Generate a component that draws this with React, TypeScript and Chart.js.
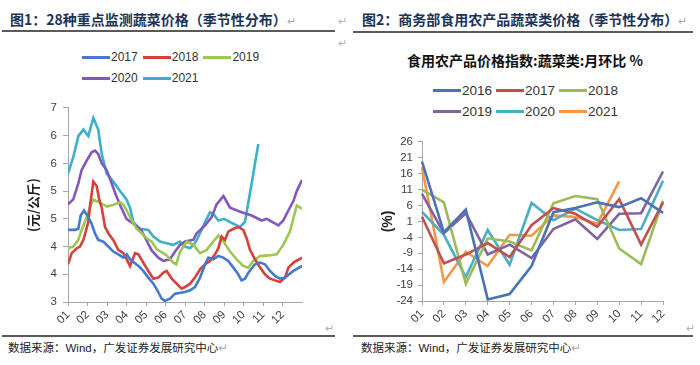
import React, { useEffect, useRef } from 'react';
import { Chart, registerables } from 'chart.js';

Chart.register(...registerables);

// ---------- shared ----------
const monthLabels = ['01', '02', '03', '04', '05', '06', '07', '08', '09', '10', '11', '12'];

// ---------- Figure 1: 28 key vegetables price (yuan/kg), x = position in year in months ----------
const leftYTicks = [3, 3.5, 4, 4.5, 5, 5.5, 6, 6.5];

const t2017 = [0, 0.36, 0.53, 0.65, 0.82, 1.04, 1.21, 1.38, 1.55, 1.81, 2.07, 2.32, 2.58, 2.84, 3.01, 3.18, 3.61, 3.86, 4.12, 4.38, 4.63, 4.8, 4.97, 5.23, 5.49, 6.0, 6.26, 6.51, 6.77, 7.03, 7.2, 7.45, 7.71, 7.96, 8.22, 8.48, 8.73, 8.9, 9.08, 9.25, 9.59, 9.85, 10.1, 10.36, 10.62, 10.87, 11.13, 11.56, 12.0];
const p2017 = [4.3, 4.3, 4.32, 4.56, 4.65, 4.53, 4.41, 4.24, 4.12, 4.09, 4.0, 3.91, 3.86, 3.8, 3.86, 3.77, 3.65, 3.56, 3.44, 3.33, 3.18, 3.06, 3.02, 3.06, 3.15, 3.18, 3.21, 3.27, 3.44, 3.68, 3.8, 3.77, 3.83, 3.8, 3.74, 3.62, 3.5, 3.39, 3.42, 3.53, 3.68, 3.71, 3.68, 3.56, 3.47, 3.42, 3.44, 3.56, 3.65];

const t2018 = [0, 0.19, 0.45, 0.62, 0.79, 1.04, 1.15, 1.3, 1.47, 1.6, 1.73, 1.9, 2.07, 2.32, 2.58, 2.84, 3.01, 3.18, 3.44, 3.61, 3.86, 4.12, 4.38, 4.63, 4.89, 5.06, 5.32, 5.57, 5.83, 6.0, 6.26, 6.51, 6.77, 7.03, 7.28, 7.54, 7.71, 7.88, 8.05, 8.22, 8.48, 8.73, 8.99, 9.16, 9.33, 9.59, 9.85, 10.1, 10.36, 10.62, 10.87, 11.13, 11.3, 11.56, 12.0];
const p2018 = [3.68, 3.88, 3.97, 4.0, 4.12, 4.44, 4.79, 5.17, 5.09, 4.85, 4.7, 4.35, 4.24, 4.12, 3.94, 3.88, 3.77, 3.65, 3.88, 3.86, 3.71, 3.56, 3.42, 3.44, 3.53, 3.56, 3.42, 3.33, 3.24, 3.27, 3.33, 3.44, 3.59, 3.68, 3.74, 3.86, 3.97, 4.18, 4.12, 4.27, 4.32, 4.35, 4.3, 4.15, 3.94, 3.77, 3.62, 3.5, 3.42, 3.39, 3.36, 3.44, 3.62, 3.71, 3.8];

const t2019 = [0, 0.27, 0.53, 0.7, 0.96, 1.13, 1.3, 1.47, 1.7, 2.0, 2.3, 2.67, 2.85, 3.01, 3.27, 3.52, 3.78, 4.04, 4.29, 4.55, 4.8, 5.06, 5.4, 5.55, 5.74, 6.09, 6.43, 6.77, 7.11, 7.45, 7.71, 7.97, 8.31, 8.65, 8.99, 9.25, 9.5, 9.85, 10.3, 10.7, 11.04, 11.38, 11.73, 12.0];
const p2019 = [3.97, 4.0, 4.12, 4.3, 4.53, 4.72, 4.85, 4.82, 4.78, 4.72, 4.75, 4.8, 4.75, 4.65, 4.47, 4.32, 4.24, 4.15, 4.09, 3.95, 3.9, 3.84, 3.71, 3.68, 3.9, 4.09, 4.03, 3.88, 3.94, 4.09, 4.2, 4.09, 3.91, 3.77, 3.65, 3.62, 3.74, 3.83, 3.84, 3.86, 4.03, 4.27, 4.74, 4.68];

const t2020 = [0, 0.27, 0.53, 0.7, 0.96, 1.21, 1.38, 1.55, 1.73, 1.98, 2.24, 2.41, 2.67, 3.0, 3.35, 3.75, 4.04, 4.29, 4.63, 4.89, 5.23, 5.49, 5.74, 6.0, 6.43, 6.6, 7.03, 7.37, 7.62, 7.97, 8.31, 8.9, 9.42, 9.93, 10.19, 10.79, 11.04, 11.3, 11.56, 11.73, 12.0];
const p2020 = [4.76, 4.85, 5.14, 5.38, 5.55, 5.7, 5.73, 5.67, 5.5, 5.38, 5.14, 4.97, 4.75, 4.5, 4.41, 4.3, 4.1, 3.93, 3.8, 3.74, 3.77, 3.91, 4.03, 4.09, 4.12, 4.24, 4.38, 4.53, 4.76, 4.91, 4.7, 4.62, 4.56, 4.47, 4.5, 4.38, 4.47, 4.65, 4.82, 5.0, 5.2];

const t2021 = [0, 0.27, 0.53, 0.79, 1.04, 1.3, 1.55, 1.73, 1.98, 2.32, 2.67, 3.0, 3.18, 3.35, 3.69, 4.12, 4.38, 4.72, 5.05, 5.4, 5.74, 6.0, 6.26, 6.51, 6.77, 7.03, 7.28, 7.45, 7.71, 8.0, 8.31, 8.55, 8.82, 9.08, 9.2, 9.42, 9.59, 9.76];
const p2021 = [5.32, 5.61, 5.99, 6.11, 5.99, 6.32, 6.11, 5.67, 5.32, 5.17, 5.0, 4.85, 4.7, 4.44, 4.32, 4.3, 4.18, 4.09, 4.06, 4.03, 4.09, 4.0, 3.97, 4.06, 4.24, 4.44, 4.62, 4.59, 4.47, 4.5, 4.44, 4.4, 4.35, 4.45, 4.7, 5.14, 5.5, 5.85];

const leftNames = ['2017', '2018', '2019', '2020', '2021'];
const leftColors = ['#4479CF', '#D8403A', '#9BC850', '#8357BE', '#3AB0CC'];
const leftT = [t2017, t2018, t2019, t2020, t2021];
const leftP = [p2017, p2018, p2019, p2020, p2021];

// ---------- Figure 2: MoM % change of vegetable price index ----------
const rightYTicks = [-24, -19, -14, -9, -4, 1, 6, 11, 16, 21, 26];
const m2016 = [19.8, -2.4, 4.7, -23.5, -21.8, -13, 3.9, 5.2, 7.0, 5.5, 8.3, 3.7];
const m2017 = [2.5, -12.2, -9.4, -5.8, -10.2, -0.2, 5.2, 3.4, -0.7, 8.0, -6.3, 7.0];
const m2018 = [11, 7, -18.6, -4.3, -5.3, -8.1, 6.7, 9.0, 8.0, -7.5, -12.4, 7.5];
const m2019 = [9.7, -2.7, 3.6, -9.4, -6.3, -10.5, -1.4, 1.7, -4.5, 3.4, 3.6, 16.7];
const m2020 = [4, -3.2, -16.5, -1.7, -12.6, 6.8, 1.4, 5.0, 1.4, -1.7, -1.4, 13.8];
const m2021 = [18, -18, -8.5, -13, -3.2, -3.5, 2.9, 2.4, 0.3, 13.6, null, null];

const rightNames = ['2016', '2017', '2018', '2019', '2020', '2021'];
const rightColors = ['#4A72BA', '#C0504D', '#9BBB59', '#8064A2', '#4BACC6', '#F79646'];
const rightVals = [m2016, m2017, m2018, m2019, m2020, m2021];

const tickFont = { family: "'Liberation Sans', Arial, sans-serif", size: 11.5 };

function leftConfig(): any {
  return {
    type: 'line',
    data: {
      datasets: leftNames.map((name, k) => ({
        label: name,
        data: leftT[k].map((x, i) => ({ x, y: leftP[k][i] })),
        borderColor: leftColors[k],
        backgroundColor: leftColors[k],
        borderWidth: 2.6,
        pointRadius: 0,
        tension: 0,
        fill: false,
      })),
    },
    options: {
      responsive: false,
      animation: false,
      devicePixelRatio: 1,
      layout: { padding: { top: 8, right: 18, left: 0, bottom: 0 } },
      plugins: { legend: { display: false }, tooltip: { enabled: false } },
      scales: {
        x: {
          type: 'linear',
          min: 0,
          max: 12,
          afterBuildTicks: (s: any) => {
            s.ticks = monthLabels.map((_, i) => ({ value: i }));
          },
          afterFit: (s: any) => {
            s.height = 33;
          },
          ticks: {
            callback: (v: any) => monthLabels[v] ?? '',
            minRotation: 45,
            maxRotation: 45,
            autoSkip: false,
            padding: 2,
            color: '#404040',
            font: tickFont,
          },
          grid: { drawOnChartArea: false, drawTicks: true, tickLength: 4, color: '#a6a6a6' },
          border: { color: '#a6a6a6' },
        },
        y: {
          min: 3,
          max: 6.5,
          afterBuildTicks: (s: any) => {
            s.ticks = leftYTicks.map((v) => ({ value: v }));
          },
          afterFit: (s: any) => {
            s.width = 68;
          },
          ticks: {
            callback: (v: any) => String(Math.round(v)),
            autoSkip: false,
            padding: 6,
            color: '#404040',
            font: tickFont,
          },
          grid: { drawOnChartArea: false, drawTicks: true, tickLength: 5, color: '#a6a6a6' },
          border: { color: '#a6a6a6' },
          title: {
            display: true,
            text: '(元/公斤)',
            color: '#222',
            font: { family: "'Noto Sans CJK SC', sans-serif", size: 13, weight: 'bold' },
            padding: { top: 25, bottom: 0 },
          },
        },
      },
    },
  };
}

function rightConfig(): any {
  return {
    type: 'line',
    data: {
      labels: monthLabels,
      datasets: rightNames.map((name, k) => ({
        label: name,
        data: rightVals[k],
        borderColor: rightColors[k],
        backgroundColor: rightColors[k],
        borderWidth: 2.6,
        pointRadius: 0,
        tension: 0,
        fill: false,
        spanGaps: false,
      })),
    },
    options: {
      responsive: false,
      animation: false,
      devicePixelRatio: 1,
      layout: { padding: { top: 8, right: 27, left: 0, bottom: 0 } },
      plugins: { legend: { display: false }, tooltip: { enabled: false } },
      scales: {
        x: {
          type: 'category',
          offset: false,
          afterFit: (s: any) => {
            s.height = 34;
          },
          ticks: {
            minRotation: 45,
            maxRotation: 45,
            autoSkip: false,
            padding: 2,
            color: '#404040',
            font: tickFont,
          },
          grid: { drawOnChartArea: false, drawTicks: true, tickLength: 4, color: '#a6a6a6' },
          border: { color: '#a6a6a6' },
        },
        y: {
          min: -24,
          max: 26,
          afterBuildTicks: (s: any) => {
            s.ticks = rightYTicks.map((v) => ({ value: v }));
          },
          afterFit: (s: any) => {
            s.width = 67;
          },
          ticks: {
            autoSkip: false,
            padding: 5,
            color: '#404040',
            font: tickFont,
          },
          grid: { drawOnChartArea: false, drawTicks: true, tickLength: 4, color: '#a6a6a6' },
          border: { color: '#a6a6a6' },
          title: {
            display: true,
            text: '(%)',
            color: '#222',
            font: { family: "'Liberation Sans', Arial, sans-serif", size: 14, weight: 'bold' },
            padding: { top: 25, bottom: 0 },
          },
        },
      },
    },
  };
}

function ChartCanvas({ make, left, top, width, height }: any) {
  const ref = useRef<HTMLCanvasElement>(null);
  useEffect(() => {
    const chart = new Chart(ref.current as HTMLCanvasElement, make());
    return () => chart.destroy();
  }, []);
  return (
    <canvas
      ref={ref}
      width={width}
      height={height}
      style={{ position: 'absolute', left, top, width, height }}
    />
  );
}

function Legend({ rows, left, top, fontSize, rowH, itemGap }: any) {
  return (
    <div style={{ position: 'absolute', left, top }}>
      {rows.map((row: any[], r: number) => (
        <div key={r} style={{ display: 'flex', alignItems: 'center', height: rowH }}>
          {row.map((it: any) => (
            <div key={it.name} style={{ display: 'flex', alignItems: 'center', marginRight: itemGap }}>
              <span style={{ display: 'inline-block', width: 28, height: 3, background: it.color }} />
              <span
                style={{
                  marginLeft: 1,
                  fontFamily: "'Liberation Sans', Arial, sans-serif",
                  fontSize,
                  color: '#333',
                  lineHeight: `${rowH}px`,
                }}
              >
                {it.name}
              </span>
            </div>
          ))}
        </div>
      ))}
    </div>
  );
}

const cjk = "'Noto Sans CJK SC', sans-serif";
const markStyle: any = { position: 'absolute', color: '#b0b0b0', fontSize: 11, fontFamily: cjk, lineHeight: '12px' };

export default function App() {
  const leftItems = leftNames.map((name, k) => ({ name, color: leftColors[k] }));
  const rightItems = rightNames.map((name, k) => ({ name, color: rightColors[k] }));
  return (
    <div style={{ position: 'absolute', left: 0, top: 0, width: 700, height: 365, background: '#fff', overflow: 'hidden' }}>
      {/* titles */}
      <div style={{ position: 'absolute', left: 10, top: 9, fontFamily: cjk, fontWeight: 700, fontSize: 14, lineHeight: '20px', color: '#1C3358', whiteSpace: 'nowrap' }}>
        图1：28种重点监测蔬菜价格（季节性分布）<span style={{ color: '#aaa', fontWeight: 400, fontSize: 11 }}>↵</span>
      </div>
      <div style={{ position: 'absolute', left: 362, top: 9, fontFamily: cjk, fontWeight: 700, fontSize: 14, lineHeight: '20px', color: '#1C3358', whiteSpace: 'nowrap' }}>
        图2：商务部食用农产品蔬菜类价格（季节性分布）<span style={{ color: '#aaa', fontWeight: 400, fontSize: 11 }}>↵</span>
      </div>
      <div style={{ position: 'absolute', left: 2, top: 30, width: 333, height: 2, background: '#5a5a5a' }} />
      <div style={{ position: 'absolute', left: 353, top: 31, width: 340, height: 2, background: '#5a5a5a' }} />
      <div style={{ ...markStyle, left: 338, top: 14 }}>↵</div>
      <div style={{ ...markStyle, left: 338, top: 36 }}>↵</div>

      {/* right chart heading */}
      <div style={{ position: 'absolute', left: 355, width: 340, top: 50, textAlign: 'center', fontFamily: cjk, fontWeight: 700, fontSize: 14, lineHeight: '20px', color: '#111', whiteSpace: 'nowrap' }}>
        食用农产品价格指数:蔬菜类:月环比 %
      </div>

      {/* legends */}
      <Legend rows={[leftItems.slice(0, 3), leftItems.slice(3)]} left={82} top={47} fontSize={12} rowH={21} itemGap={5} />
      <Legend rows={[rightItems.slice(0, 3), rightItems.slice(3)]} left={433} top={80} fontSize={13.5} rowH={21} itemGap={4} />

      {/* charts */}
      <ChartCanvas make={leftConfig} left={0} top={95} width={320} height={240} />
      <ChartCanvas make={rightConfig} left={355} top={130} width={335} height={205} />

      {/* footers */}
      <div style={{ ...markStyle, left: 325, top: 321 }}>↵</div>
      <div style={{ ...markStyle, left: 686, top: 321 }}>↵</div>
      <div style={{ position: 'absolute', left: 2, top: 335, width: 333, height: 2, background: '#5a5a5a' }} />
      <div style={{ position: 'absolute', left: 353, top: 335, width: 340, height: 2, background: '#5a5a5a' }} />
      <div style={{ position: 'absolute', left: 8, top: 340, fontFamily: cjk, fontSize: 11.5, lineHeight: '14px', color: '#222', whiteSpace: 'nowrap' }}>
        数据来源：<span style={{ fontFamily: "'Liberation Sans', Arial, sans-serif" }}>Wind</span>，广发证券发展研究中心<span style={{ color: '#aaa' }}>↵</span>
      </div>
      <div style={{ position: 'absolute', left: 361, top: 340, fontFamily: cjk, fontSize: 11.5, lineHeight: '14px', color: '#222', whiteSpace: 'nowrap' }}>
        数据来源：<span style={{ fontFamily: "'Liberation Sans', Arial, sans-serif" }}>Wind</span>，广发证券发展研究中心<span style={{ color: '#aaa' }}>↵</span>
      </div>
    </div>
  );
}
